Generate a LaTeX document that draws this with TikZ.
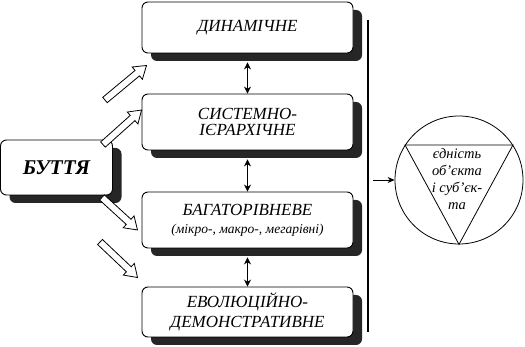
\documentclass[tikz,border=0pt]{standalone}
\usepackage{fontspec}
\setmainfont{Liberation Serif}
\newfontfamily\tms{Liberation Serif}
\usetikzlibrary{arrows.meta,calc,shadows}

% hollow fat arrow from #1 to #2
\newcommand{\fatarrow}[2]{%
  \draw[fill=white,line width=.8pt] let \p1=($(#2)-(#1)$), \n1={atan2(\y1,\x1)}, \n2={veclen(\x1,\y1)} in
    [shift={(#1)},rotate=\n1] (0pt,-3.5pt) -- (\n2-12pt,-3.5pt) -- (\n2-12pt,-8pt) -- (\n2,0pt)
    -- (\n2-12pt,8pt) -- (\n2-12pt,3.5pt) -- (0pt,3.5pt) -- cycle;}

\begin{document}
\begin{tikzpicture}[x=1pt,y=-1pt,
  box/.style={draw,line width=.9pt,rounded corners=6pt,fill=white,minimum width=211pt,
    align=center,font=\tms\fontsize{17}{16}\selectfont\itshape,
    drop shadow={shadow xshift=9pt,shadow yshift=-8pt,fill=black!85,opacity=1}},
  dbl/.style={{Stealth[length=7pt,width=7pt]}-{Stealth[length=7pt,width=7pt]},line width=.8pt}]
\useasboundingbox (0,0) rectangle (525,347);
\node[box,minimum height=51pt] (din) at (247.5,27.5){ДИНАМІЧНЕ};
\node[box,minimum height=56pt] (sys) at (247.5,122){СИСТЕМНО-\\ІЄРАРХІЧНЕ};
\node[box,minimum height=56pt] (bag) at (247.5,220){БАГАТОРІВНЕВЕ\\[2pt]{\fontsize{13.5}{15}\selectfont(мікро-, макро-, мегарівні)}};
\node[box,minimum height=50pt] (evo) at (247.5,312){ЕВОЛЮЦІЙНО-\\[4pt]ДЕМОНСТРАТИВНЕ};
\node[box,minimum width=112pt,minimum height=55pt,font=\tms\fontsize{21}{22}\selectfont\bfseries\itshape] (but) at (56.5,167.5){БУТТЯ};
\draw[dbl,shorten <=9pt] (din.south) -- (sys.north);
\draw[dbl,shorten <=9pt] (sys.south) -- (bag.north);
\draw[dbl,shorten <=9pt] (bag.south) -- (evo.north);
\coordinate (a1s) at (105,100);
\coordinate (a1e) at ($(din.south west)+(5,12)$);
\coordinate (a2s) at ($(but.north east)+(-10,5)$);
\coordinate (a2e) at ($(sys.west)+(0,-12)$);
\coordinate (a3s) at ($(but.south east)+(-11,2)$);
\coordinate (a3e) at ($(bag.west)+(-4,10)$);
\coordinate (a4s) at (100,242);
\coordinate (a4e) at ($(evo.north west)+(-4,-9)$);
\fatarrow{a1s}{a1e}
\fatarrow{a2s}{a2e}
\fatarrow{a3s}{a3e}
\fatarrow{a4s}{a4e}
% bar and unity circle
\coordinate (bartop) at (368,20);
\coordinate (barbot) at (368,332);
\draw[line width=2.5pt] (bartop) -- (barbot);
\node[circle,draw,line width=.8pt,minimum size=128pt,inner sep=0pt] (circ) at (459,180){};
\coordinate (barmid) at (373,180);
\draw[-{Stealth[length=7pt,width=6pt]},line width=.8pt] (barmid) -- (circ.west);
\draw[line width=.8pt] (circ.147) -- (circ.33) -- (circ.south) -- cycle;
\node[align=center,font=\tms\fontsize{14.5}{17}\selectfont\itshape] (unity) at (457,179){єдність\\об’єкта\\і суб’єк-\\та};
\end{tikzpicture}
\end{document}
